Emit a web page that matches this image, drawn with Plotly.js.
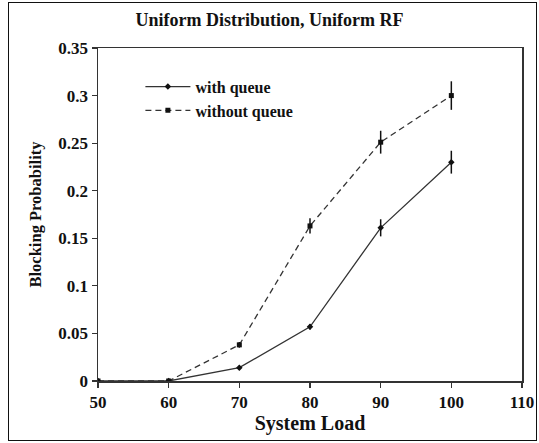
<!DOCTYPE html>
<html>
<head>
<meta charset="utf-8">
<script src="https://cdn.plot.ly/plotly-3.0.1.min.js"></script>
<style>
html, body { margin: 0; padding: 0; background: #fff; }
#wrap { position: relative; width: 539px; height: 443px; }
#chart { position: absolute; left: 0; top: 0; width: 539px; height: 443px; }
#border { position: absolute; left: 8px; top: 2px; width: 527px; height: 437px; border: 1.5px solid #111; pointer-events: none; }
</style>
</head>
<body>
<div id="wrap">
<div id="chart"></div>
<div id="border"></div>
</div>
<script>
const loads = [50, 60, 70, 80, 90, 100];
const withQueue = [0, 0, 0.014, 0.057, 0.161, 0.23];
const withQueueErr = [0, 0, 0.002, 0.003, 0.009, 0.012];
const withoutQueue = [0, 0, 0.038, 0.163, 0.251, 0.3];
const withoutQueueErr = [0, 0, 0.003, 0.008, 0.012, 0.015];
const xTicks = [50, 60, 70, 80, 90, 100, 110];
const yTicks = [0, 0.05, 0.1, 0.15, 0.2, 0.25, 0.3, 0.35];
const yTickText = ['0', '0.05', '0.1', '0.15', '0.2', '0.25', '0.3', '0.35'];

const serif = 'Liberation Serif, Times New Roman, serif';

const traces = [
  {
    x: loads, y: withQueue, name: 'with queue', type: 'scatter', mode: 'lines+markers',
    line: { color: '#333', width: 1.3 },
    marker: { symbol: 'diamond', size: 5, color: '#111' },
    error_y: { type: 'data', array: withQueueErr, visible: true, color: '#111', thickness: 1.5, width: 0 }
  },
  {
    x: loads, y: withoutQueue, name: 'without queue', type: 'scatter', mode: 'lines+markers',
    line: { color: '#333', width: 1.3, dash: '6px,4px' },
    marker: { symbol: 'square', size: 5, color: '#111' },
    error_y: { type: 'data', array: withoutQueueErr, visible: true, color: '#111', thickness: 1.5, width: 0 }
  }
];

const axisCommon = {
  showgrid: false, zeroline: false, showline: true, mirror: true,
  linecolor: '#333', linewidth: 1.5, ticks: 'outside', ticklen: 5, tickwidth: 1.2, tickcolor: '#333',
  tickfont: { family: serif, size: 17, color: '#111', weight: 'bold' }
};

const layout = {
  width: 539, height: 443,
  margin: { l: 98, r: 17, t: 48, b: 62 },
  paper_bgcolor: '#fff', plot_bgcolor: '#fff',
  font: { family: serif, color: '#111' },
  title: {
    text: '<b>Uniform Distribution, Uniform RF</b>',
    font: { family: serif, size: 18, color: '#111' },
    xref: 'container', x: 0.5, xanchor: 'center',
    yref: 'container', y: 1 - 20 / 443, yanchor: 'middle'
  },
  xaxis: Object.assign({}, axisCommon, {
    range: [50, 110], tickvals: xTicks,
    title: { text: '<b>System Load</b>', font: { family: serif, size: 20, color: '#111' }, standoff: 2 }
  }),
  yaxis: Object.assign({}, axisCommon, {
    range: [0, 0.35], tickvals: yTicks, ticktext: yTickText,
    title: { text: '<b>Blocking Probability</b>', font: { family: serif, size: 16.5, color: '#111' }, standoff: 12 }
  }),
  legend: {
    x: 0.1, y: 0.935, xanchor: 'left', yanchor: 'top',
    bgcolor: 'rgba(0,0,0,0)', borderwidth: 0,
    font: { family: serif, size: 16, color: '#111', weight: 'bold' },
    tracegroupgap: 0, itemwidth: 45
  },
  showlegend: true
};

Plotly.newPlot('chart', traces, layout, { displayModeBar: false, staticPlot: true });
</script>
</body>
</html>
